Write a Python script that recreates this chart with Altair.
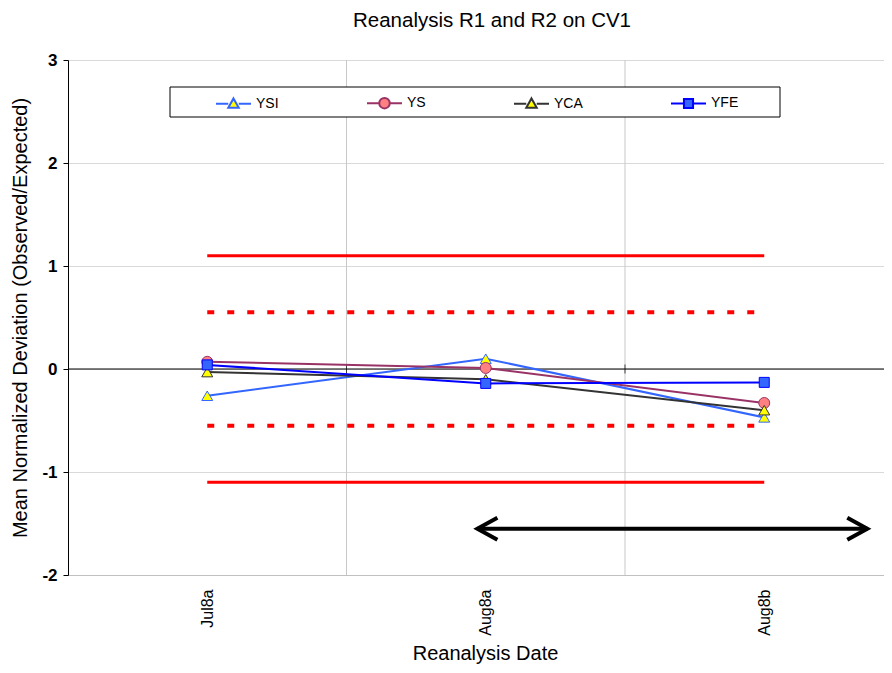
import altair as alt
import pandas as pd

# ---------------- data ----------------
dates = ["Jul8a", "Aug8a", "Aug8b"]
series_names = ["YSI", "YS", "YCA", "YFE"]
ysi = [-0.26, 0.10, -0.47]
ys = [0.07, 0.01, -0.33]
yca = [-0.03, -0.10, -0.40]
yfe = [0.04, -0.14, -0.13]

solid_levels = [1.1, -1.1]
dotted_levels = [0.55, -0.55]
arrow_level = -1.55
arrow_start = 0.97
arrow_end = 2.37
y_ticks = [-2, -1, 0, 1, 2, 3]

# ---------------- styles ----------------
line_colors = ["#3366FF", "#993366", "#333333", "#0000FF"]
marker_fills = ["#FFFF00", "#FF8080", "#FFFF00", "#3366FF"]
marker_shapes = ["triangle-up", "circle", "triangle-up", "square"]
marker_sizes = [120, 120, 120, 100]
tri = "M -1 0 L -0.3 0 M 0.3 0 L 1 0 M 0 -0.3 L 0.3 0.24 L -0.3 0.24 Z"
circ = ("M -1 0 L -0.3 0 M 0.3 0 L 1 0 M -0.3 0 A 0.3 0.3 0 1 0 0.3 0 "
        "A 0.3 0.3 0 1 0 -0.3 0 Z")
sq = "M -1 0 L -0.26 0 M 0.26 0 L 1 0 M -0.26 -0.26 L 0.26 -0.26 L 0.26 0.26 L -0.26 0.26 Z"
legend_paths = [tri, circ, tri, sq]
FONT = "Liberation Sans"

rows = []
for s, vals in zip(series_names, [ysi, ys, yca, yfe]):
    for i, (d, v) in enumerate(zip(dates, vals)):
        rows.append({"series": s, "idx": i, "date": d, "value": v})
df = pd.DataFrame(rows)

x_scale = alt.Scale(domain=[-0.5, 2.43], nice=False, zero=False)
y_scale = alt.Scale(domain=[-2, 3], nice=False, zero=False)

label_expr = "[" + ",".join("'%s'" % d for d in dates) + "][datum.value]"

x_axis = alt.Axis(values=list(range(len(dates))), labelExpr=label_expr,
                  labelAngle=270, labelAlign="right", labelBaseline="middle",
                  labelFontSize=16, labelFont=FONT, labelColor="black",
                  labelPadding=14, labelFlush=False, labelOverlap=False,
                  ticks=False, grid=False, domainColor="#c0c0c0",
                  title="Reanalysis Date", titleFontSize=20, titleFont=FONT,
                  titleFontWeight="normal", titleColor="black", titlePadding=8,
                  titleX=417)
y_axis = alt.Axis(values=y_ticks, labelExpr="'' + datum.value",
                  labelFontSize=17, labelFontWeight="bold", labelFont=FONT,
                  labelColor="black", domainColor="black", tickColor="black",
                  tickSize=5, labelPadding=6, gridColor="#d9d9d9",
                  title="Mean Normalized Deviation (Observed/Expected)",
                  titleFontSize=20, titleFont=FONT, titleFontWeight="normal",
                  titleColor="black", titlePadding=11)

stroke_scale = alt.Scale(domain=series_names, range=line_colors)
fill_scale = alt.Scale(domain=series_names, range=marker_fills)
shape_scale = alt.Scale(domain=series_names, range=legend_paths)

# axes carrier (invisible)
base_axes = alt.Chart(df).mark_point(opacity=0).encode(
    x=alt.X("idx:Q", scale=x_scale, axis=x_axis),
    y=alt.Y("value:Q", scale=y_scale, axis=y_axis),
)

# vertical gridlines at category boundaries
grid_df = pd.DataFrame({"b": [i + 0.5 for i in range(len(dates) - 1)]})
vgrid = alt.Chart(grid_df).mark_rule(color="#c8c8c8", strokeWidth=1).encode(
    x=alt.X("b:Q", scale=x_scale))

# zero line and small ticks
zero_df = pd.DataFrame({"z": [0]})
zero_line = alt.Chart(zero_df).mark_rule(color="black", strokeWidth=1).encode(
    y=alt.Y("z:Q", scale=y_scale))
zticks_df = pd.DataFrame({"b": [i + 0.5 for i in range(len(dates) - 1)], "z": [0] * (len(dates) - 1)})
zero_ticks = alt.Chart(zticks_df).mark_tick(color="black", orient="vertical", size=9, thickness=1).encode(
    x=alt.X("b:Q", scale=x_scale), y=alt.Y("z:Q", scale=y_scale))

# red limit lines
lim_df = pd.DataFrame({"lvl": solid_levels + dotted_levels,
                       "kind": ["solid"] * len(solid_levels) + ["dotted"] * len(dotted_levels),
                       "x0": [0] * 4, "x1": [len(dates) - 1] * 4})
solid = alt.Chart(lim_df).transform_filter("datum.kind == 'solid'").mark_rule(
    color="#FF0000", strokeWidth=3).encode(
    x=alt.X("x0:Q", scale=x_scale), x2="x1:Q", y=alt.Y("lvl:Q", scale=y_scale))
dotted = alt.Chart(lim_df).transform_filter("datum.kind == 'dotted'").mark_rule(
    color="#FF0000", strokeWidth=4, strokeDash=[7, 13]).encode(
    x=alt.X("x0:Q", scale=x_scale), x2="x1:Q", y=alt.Y("lvl:Q", scale=y_scale))

# arrow
arr_df = pd.DataFrame({"x0": [arrow_start], "x1": [arrow_end], "y": [arrow_level]})
arrow_line = alt.Chart(arr_df).mark_rule(color="black", strokeWidth=4).encode(
    x=alt.X("x0:Q", scale=x_scale), x2="x1:Q", y=alt.Y("y:Q", scale=y_scale))
head_l = alt.Chart(arr_df).mark_point(filled=False, color="black", strokeWidth=4,
                                      shape="M 1 -0.55 L 0 0 L 1 0.55", size=1600,
                                      opacity=1).encode(
    x=alt.X("x0:Q", scale=x_scale), y=alt.Y("y:Q", scale=y_scale))
head_r = alt.Chart(arr_df).mark_point(filled=False, color="black", strokeWidth=4,
                                      shape="M -1 -0.55 L 0 0 L -1 0.55", size=1600,
                                      opacity=1).encode(
    x=alt.X("x1:Q", scale=x_scale), y=alt.Y("y:Q", scale=y_scale))

# legend box
box = alt.Chart(pd.DataFrame({"a": [0]})).mark_rect(
    fill="white", stroke="black", strokeWidth=1).encode(
    x=alt.value(102), x2=alt.value(712), y=alt.value(27), y2=alt.value(57))

# series (constant styling per series, positions through scales)
series_layers = []
for s, shp, sz, lc, mf in zip(series_names, marker_shapes, marker_sizes,
                              line_colors, marker_fills):
    sub = alt.Chart(df).transform_filter(alt.datum.series == s)
    ln = sub.mark_line(strokeWidth=2, color=lc).encode(
        x=alt.X("idx:Q", scale=x_scale),
        y=alt.Y("value:Q", scale=y_scale))
    pt = sub.mark_point(filled=True, shape=shp, size=sz, strokeWidth=1, opacity=1,
                        fill=mf, stroke=lc).encode(
        x=alt.X("idx:Q", scale=x_scale),
        y=alt.Y("value:Q", scale=y_scale))
    series_layers += [ln, pt]

legend = alt.Legend(orient="none", legendX=147, legendY=24.5, direction="horizontal",
                    title=None, symbolSize=1225, symbolStrokeWidth=2,
                    labelFontSize=14, labelFont=FONT, labelColor="black",
                    labelOffset=4, columnPadding=84, padding=0, symbolOpacity=1)
legend_layer = alt.Chart(df).mark_point(filled=True, opacity=0).encode(
    x=alt.X("idx:Q", scale=x_scale),
    y=alt.Y("value:Q", scale=y_scale),
    shape=alt.Shape("series:N", scale=shape_scale, legend=legend),
    fill=alt.Fill("series:N", scale=fill_scale, legend=legend),
    stroke=alt.Stroke("series:N", scale=stroke_scale, legend=legend))

chart = alt.layer(
    base_axes, vgrid, zero_line, zero_ticks, box, solid, dotted,
    arrow_line, head_l, head_r, *series_layers, legend_layer
).properties(
    width=816, height=515,
    title=alt.TitleParams("Reanalysis R1 and R2 on CV1", fontSize=20.5, font=FONT,
                          fontWeight="normal", color="black", offset=20, dx=16,
                          frame="group", anchor="middle"),
    autosize=alt.AutoSizeParams(type="none"),
    padding={"left": 60, "top": 52, "right": 0, "bottom": 90},
).configure_view(stroke=None).configure(background="white")

chart.save("out.html", embed_options={"renderer": "svg", "actions": False})
